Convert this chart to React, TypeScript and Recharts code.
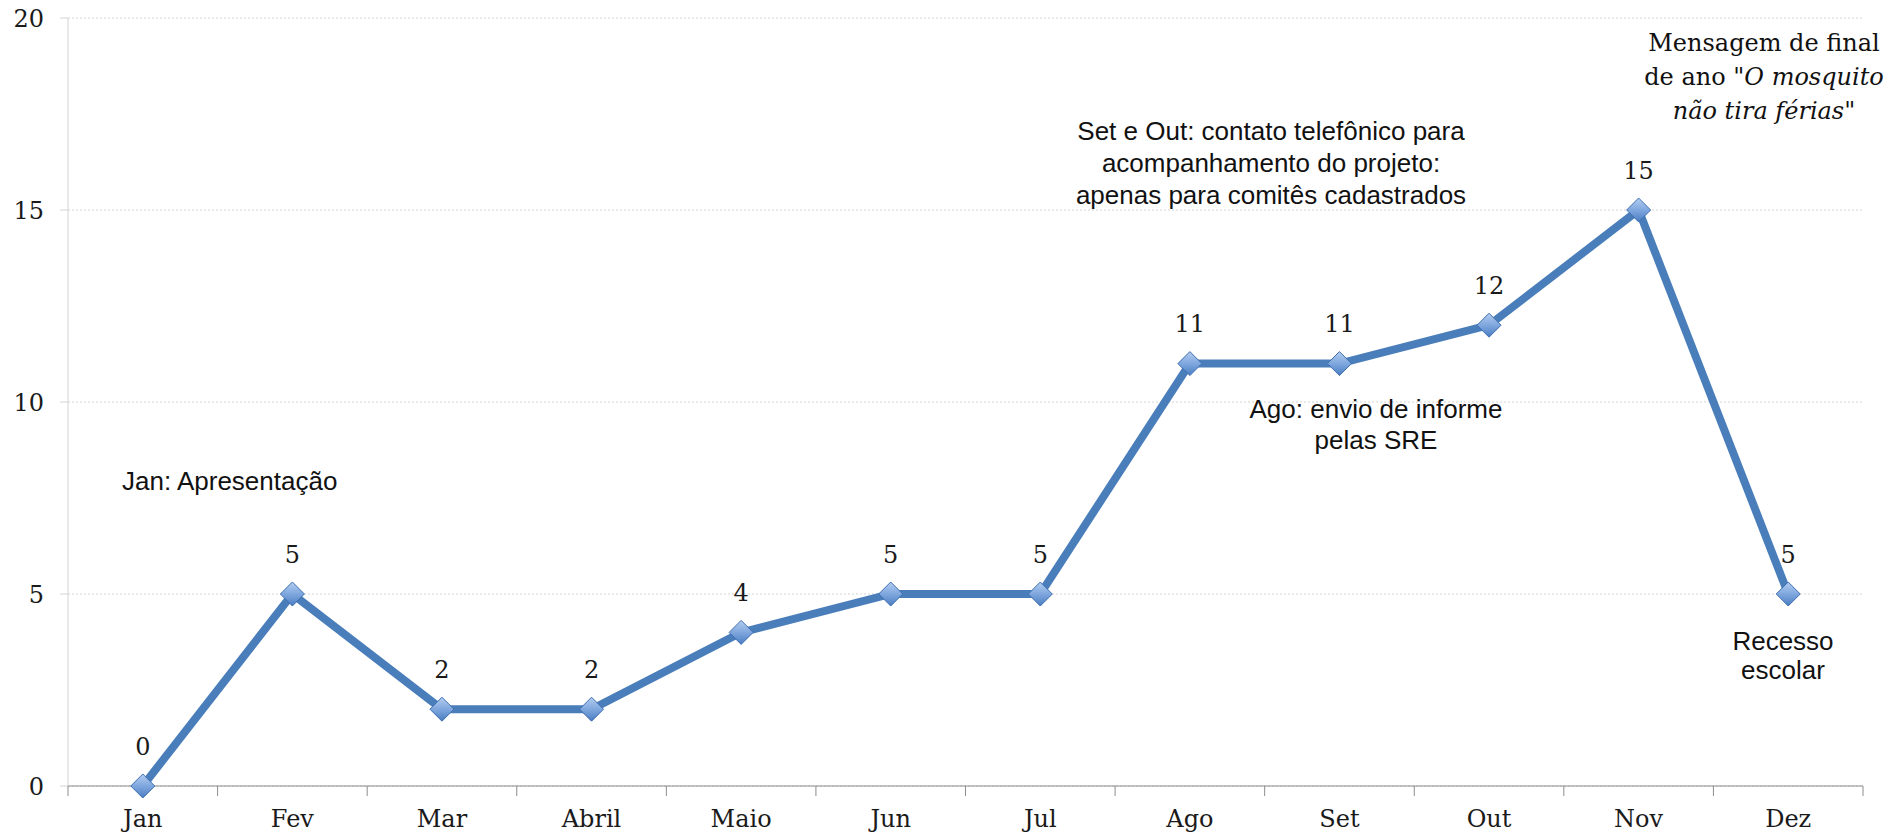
import React from 'react';
import { LineChart, Line, XAxis, YAxis, CartesianGrid, LabelList } from 'recharts';

// meses e valores
const months = ['Jan', 'Fev', 'Mar', 'Abril', 'Maio', 'Jun', 'Jul', 'Ago', 'Set', 'Out', 'Nov', 'Dez'];
const counts = [0, 5, 2, 2, 4, 5, 5, 11, 11, 12, 15, 5];
const yTicks = [0, 5, 10, 15, 20];

const data = months.map((m, i) => ({ month: m, count: counts[i] }));

const W = 1903;
const H = 837;
const PLOT_L = 68;
const PLOT_R = 1863;
const HALF_BAND = (PLOT_R - PLOT_L) / months.length / 2;

const SERIF = '"DejaVu Serif", serif';
const SANS = '"Liberation Sans", Arial, sans-serif';

function XTick(props: any) {
  const { x, y, payload, index } = props;
  const last = index === months.length - 1;
  return (
    <g>
      <line x1={x - HALF_BAND} x2={x - HALF_BAND} y1={y} y2={y + 10} stroke="#8c8c8c" />
      {last && <line x1={x + HALF_BAND} x2={x + HALF_BAND} y1={y} y2={y + 10} stroke="#8c8c8c" />}
      <text x={x} y={y + 34} textAnchor="middle" dominantBaseline="middle" fontFamily={SERIF} fontSize={24} fill="#1a1a1a">
        {payload.value}
      </text>
    </g>
  );
}

function Diamond(props: any) {
  const { cx, cy, index } = props;
  if (cx == null || cy == null) return null;
  const r = 12;
  return (
    <polygon
      key={'d' + index}
      points={`${cx},${cy - r} ${cx + r},${cy} ${cx},${cy + r} ${cx - r},${cy}`}
      fill="url(#diamondFill)"
      stroke="#3d6eb0"
      strokeWidth={1}
    />
  );
}

function ValueLabel(props: any) {
  const { x, y, value } = props;
  return (
    <text x={x} y={y - 38} textAnchor="middle" dominantBaseline="middle" fontFamily={SERIF} fontSize={24} fill="#1a1a1a">
      {value}
    </text>
  );
}

const note: React.CSSProperties = {
  position: 'absolute',
  fontFamily: SANS,
  fontSize: 26,
  lineHeight: '31px',
  color: '#111',
  whiteSpace: 'nowrap',
};

export default function App() {
  return (
    <div style={{ position: 'relative', width: W, height: H, background: '#fff' }}>
      <style>{'body{margin:0}'}</style>
      <svg width={0} height={0} style={{ position: 'absolute' }}>
        <defs>
          <linearGradient id="diamondFill" x1="0" y1="0" x2="0" y2="1">
            <stop offset="0%" stopColor="#b3cdf0" />
            <stop offset="55%" stopColor="#7aa3dc" />
            <stop offset="100%" stopColor="#4a7cc0" />
          </linearGradient>
        </defs>
      </svg>
      <LineChart width={W} height={H} data={data} margin={{ top: 18, right: W - PLOT_R, bottom: 0, left: 0 }}>
        <CartesianGrid vertical={false} stroke="#d4d4d4" strokeDasharray="2 2" />
        <XAxis
          dataKey="month"
          padding={{ left: HALF_BAND, right: HALF_BAND }}
          height={51}
          tickSize={0}
          tickMargin={0}
          tickLine={false}
          axisLine={{ stroke: '#8c8c8c' }}
          tick={<XTick />}
          interval={0}
        />
        <YAxis
          width={PLOT_L}
          domain={[0, 20]}
          ticks={yTicks}
          tickSize={8}
          tickMargin={16}
          axisLine={{ stroke: '#d4d4d4' }}
          tickLine={{ stroke: '#d4d4d4' }}
          tick={{ fontFamily: SERIF, fontSize: 24, fill: '#1a1a1a' }}
        />
        <Line
          type="linear"
          dataKey="count"
          stroke="#4a7ebb"
          strokeWidth={8}
          dot={<Diamond />}
          activeDot={false}
          isAnimationActive={false}
        >
          <LabelList dataKey="count" content={<ValueLabel />} />
        </Line>
      </LineChart>

      <div style={{ ...note, left: 122, top: 466 }}>Jan: Apresentação</div>
      <div style={{ ...note, left: 1271, top: 115, transform: 'translateX(-50%)', textAlign: 'center', lineHeight: '32px' }}>
        Set e Out: contato telefônico para
        <br />
        acompanhamento do projeto:
        <br />
        apenas para comitês cadastrados
      </div>
      <div style={{ ...note, left: 1376, top: 394, transform: 'translateX(-50%)', textAlign: 'center' }}>
        Ago: envio de informe
        <br />
        pelas SRE
      </div>
      <div style={{ ...note, left: 1783, top: 627, transform: 'translateX(-50%)', textAlign: 'center', lineHeight: '29px' }}>
        Recesso
        <br />
        escolar
      </div>
      <div
        style={{
          ...note,
          fontFamily: SERIF,
          fontSize: 24,
          lineHeight: '34px',
          left: 1764,
          top: 26,
          transform: 'translateX(-50%)',
          textAlign: 'center',
        }}
      >
        Mensagem de final
        <br />
        de ano "<i>O mosquito</i>
        <br />
        <i>não tira férias</i>"
      </div>
    </div>
  );
}
